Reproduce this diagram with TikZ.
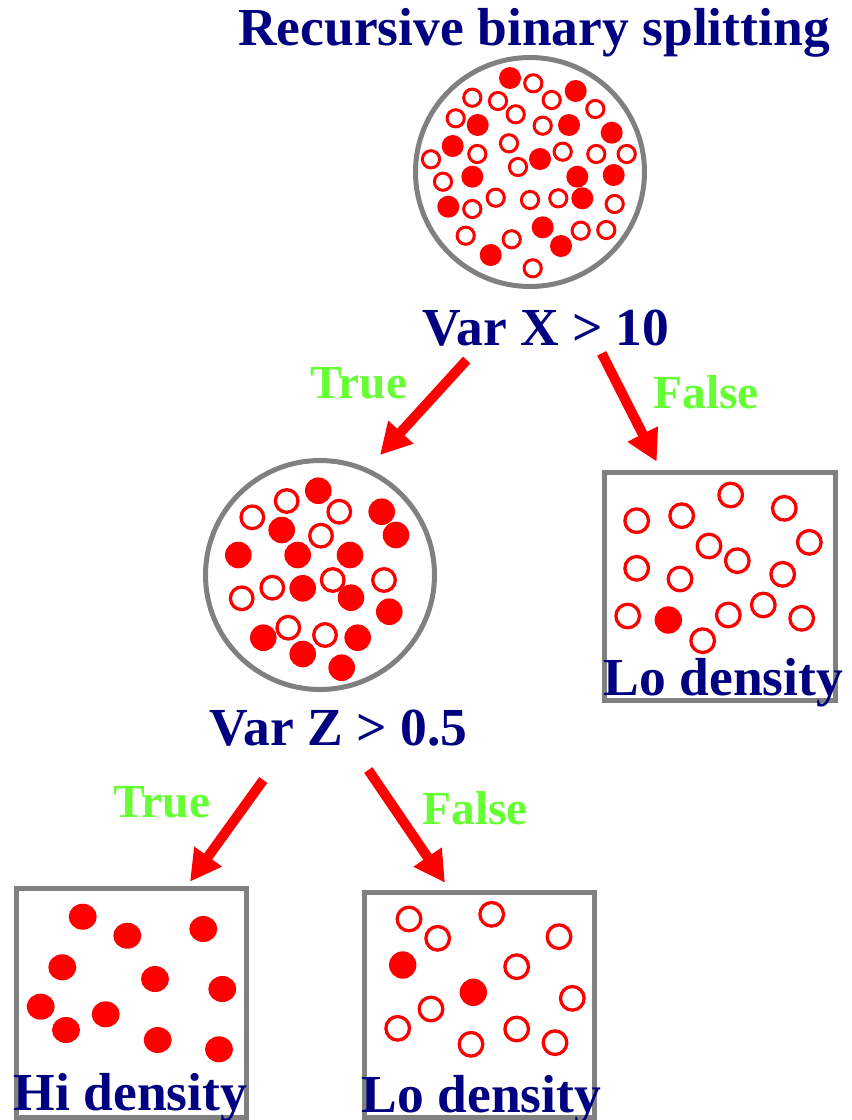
\documentclass[tikz,border=0pt]{standalone}
\usepackage{fontspec}
\setmainfont{Liberation Serif}
\usetikzlibrary{arrows.meta}
\definecolor{navy}{RGB}{0,0,128}
\definecolor{lgreen}{RGB}{102,255,51}
\definecolor{frame}{RGB}{128,128,128}
\tikzset{
  big/.style={inner sep=0pt, text=navy, font=\fontsize{53.5}{60}\selectfont\bfseries},
  branch/.style={inner sep=0pt, text=lgreen, font=\fontsize{47.5}{54}\selectfont\bfseries},
  pool/.style={circle, draw=frame, line width=5pt, minimum size=229pt, inner sep=0pt},
  leaf/.style={rectangle, draw=frame, line width=5pt, inner sep=0pt},
  splitarrow/.style={draw=red, line width=10pt, -{Triangle[width=32pt,length=31pt]}},
}
\newcommand{\fd}[3]{\fill[red] (#1,#2) circle[radius=#3];}
\newcommand{\od}[4]{\draw[red, line width=#4pt] (#1,#2) circle[radius=#3];}
\newcommand{\fe}[2]{\fill[red] (#1,#2) ellipse[x radius=14, y radius=13];}
\begin{document}
\begin{tikzpicture}[x=1pt,y=-1pt]
\useasboundingbox (0,0) rectangle (852,1120);
% title
\node[big, anchor=base] (title) at (534,45) {Recursive binary splitting};
% pools
\node[pool] (root) at (530,172) {};
\node[pool] (zpool) at (320,575) {};
% leaves
\node[leaf, minimum width=231pt, minimum height=227.5pt] (loA) at (719.5,586.25) {};
\node[leaf, minimum width=230pt, minimum height=228.5pt] (hiB) at (131.5,1002.75) {};
\node[leaf, minimum width=230pt, minimum height=224.5pt] (loB) at (479,1004.75) {};
% split labels
\node[big, anchor=base] (splitX) at (546,345) {Var X > 10};
\node[big, anchor=base] (splitZ) at (338.5,745) {Var Z > 0.5};
\node[branch, anchor=base] (t1) at (359,398) {True};
\node[branch, anchor=base] (f1) at (706,408) {False};
\node[branch, anchor=base] (t2) at (162,817) {True};
\node[branch, anchor=base] (f2) at (475,824) {False};
\node[big, anchor=base] (loAtxt) at (723.5,695) {Lo density};
\node[big, anchor=base] (hiBtxt) at (130.5,1110) {Hi density};
\node[big, anchor=base] (loBtxt) at (481.5,1112) {Lo density};
% arrow ends
\coordinate (a1s) at (466.7,360);
\coordinate (a1e) at (380,455);
\coordinate (a2s) at (601.7,353.3);
\coordinate (a2e) at (656.7,461.7);
\coordinate (a3s) at (263.3,780);
\coordinate (a3e) at (190,881.7);
\coordinate (a4s) at (368.3,770);
\coordinate (a4e) at (445,882.7);
\draw[splitarrow] (a1s) -- (a1e);
\draw[splitarrow] (a2s) -- (a2e);
\draw[splitarrow] (a3s) -- (a3e);
\draw[splitarrow] (a4s) -- (a4e);
% root dots
\fd{510}{78}{11}\fd{575.7}{91}{11}\fd{477.7}{125}{11}\fd{569}{125}{11}
\fd{611.7}{132.7}{11}\fd{452.7}{146}{11}\fd{540}{159}{11}\fd{472.3}{176.7}{11}
\fd{577.3}{176.7}{11}\fd{613.7}{175}{11}\fd{448.3}{206.7}{11}\fd{582.3}{198.3}{11}
\fd{542.7}{227.3}{11}\fd{561}{246}{11}\fd{490.7}{255}{11}
\od{533.3}{83.3}{8.6}{3}\od{472.3}{97.7}{8.6}{3}\od{498}{101}{8.6}{3}
\od{551.7}{100}{8.6}{3}\od{595.3}{109}{8.6}{3}\od{455.7}{118.3}{8.6}{3}
\od{515.7}{114.3}{8.6}{3}\od{542.7}{125.7}{8.6}{3}\od{509}{143.3}{8.6}{3}
\od{477.3}{154}{8.6}{3}\od{562.7}{151.7}{8.6}{3}\od{596.3}{154}{8.6}{3}
\od{626.7}{154}{8.6}{3}\od{431}{159.3}{8.6}{3}\od{518}{167}{8.6}{3}
\od{443}{181.7}{8.6}{3}\od{495.7}{197.7}{8.6}{3}\od{530}{200}{8.6}{3}
\od{558.3}{198.3}{8.6}{3}\od{472.3}{209}{8.6}{3}\od{614.7}{204}{8.6}{3}
\od{465.7}{235.7}{8.6}{3}\od{580.7}{230.7}{8.6}{3}\od{606.3}{230}{8.6}{3}
\od{511.7}{239.3}{8.6}{3}\od{532.7}{268.3}{8.6}{3}
% Z pool dots
\fd{318.3}{490.7}{13.3}\fd{381.7}{511.7}{13.3}\fd{396}{535}{13.3}\fd{281.7}{530}{13.3}
\fd{238.3}{555}{13.3}\fd{297.7}{555}{13.3}\fd{350}{555}{13.3}\fd{302.7}{588.3}{13.3}
\fd{351}{597.7}{13.3}\fd{389.3}{611.7}{13.3}\fd{263.3}{637.7}{13.3}\fd{357.7}{637.7}{13.3}
\fd{302.7}{654}{13.3}\fd{341.7}{667.7}{13.3}
\od{286.7}{501}{11.3}{3.3}\od{252.3}{517.3}{11.3}{3.3}\od{339.3}{511.7}{11.3}{3.3}
\od{321}{535.7}{11.3}{3.3}\od{272.3}{587.7}{11.3}{3.3}\od{332.7}{580}{11.3}{3.3}
\od{384}{580}{11.3}{3.3}\od{241.7}{598.3}{11.3}{3.3}\od{288.3}{627.7}{11.3}{3.3}
\od{325}{635}{11.3}{3.3}
% right leaf dots
\od{730.7}{495}{11.8}{3.3}\od{636.7}{520.7}{11.8}{3.3}\od{681.7}{515.7}{11.8}{3.3}
\od{784.3}{508.3}{11.8}{3.3}\od{809.3}{542.3}{11.8}{3.3}\od{709}{546}{11.8}{3.3}
\od{737.3}{560.7}{11.8}{3.3}\od{636.7}{568.3}{11.8}{3.3}\od{680}{579}{11.8}{3.3}
\od{782.7}{574.3}{11.8}{3.3}\od{627.7}{616}{11.8}{3.3}\od{763.3}{605}{11.8}{3.3}
\od{728.3}{615}{11.8}{3.3}\od{801.7}{618.3}{11.8}{3.3}\od{702.7}{640.7}{11.8}{3.3}
\fd{668.3}{620}{13.7}
% hi leaf dots
\fe{82.7}{916.7}\fe{127.3}{935.7}\fe{203.3}{929}\fe{62.3}{967.3}\fe{155}{979}
\fe{222.3}{989}\fe{40.7}{1006.7}\fe{105.7}{1014.3}\fe{66}{1030}\fe{157.7}{1040}
\fe{219}{1049.3}
% lo leaf dots
\od{409}{919}{11.8}{3.3}\od{437.7}{938.3}{11.8}{3.3}\od{491.7}{914.3}{11.8}{3.3}
\od{559}{936.7}{11.8}{3.3}\od{516.7}{966.7}{11.8}{3.3}\od{572.3}{998.3}{11.8}{3.3}
\od{431}{1009}{11.8}{3.3}\od{397.7}{1028.3}{11.8}{3.3}\od{516.7}{1029}{11.8}{3.3}
\od{471}{1044.3}{11.8}{3.3}\od{555}{1042.7}{11.8}{3.3}
\fd{402.7}{965}{13.7}\fd{473.3}{992.3}{13.7}
\end{tikzpicture}
\end{document}
